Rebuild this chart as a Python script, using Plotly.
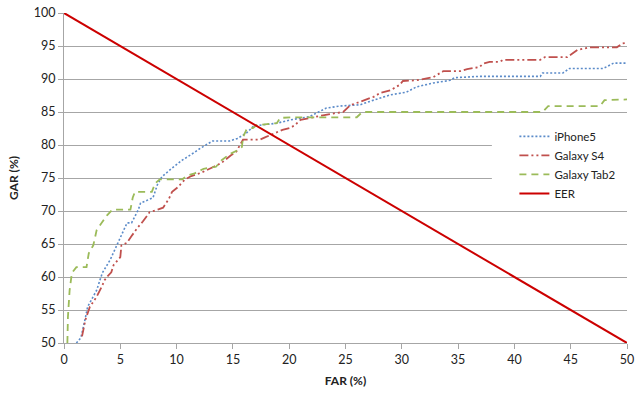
import plotly.graph_objects as go

# ---- data ----
iphone5_far = [1.1, 1.5, 1.9, 2.1, 2.9, 3.4, 4.1, 4.8, 5.3, 5.6, 6.0, 6.6, 6.8, 7.5, 7.9, 8.3, 8.7, 9.6, 10.5, 11.6,
               12.1, 13.2, 14.7, 15.4, 16.2, 16.8, 17.4, 18.9, 20.1, 21.8, 23.3, 24.5, 26.3, 27.5, 29.0, 30.4,
               31.3, 32.8, 34.3, 34.7, 36.9, 42.3, 42.5, 44.3, 44.9, 47.9, 48.8, 50.0]
iphone5_gar = [50.0, 50.8, 53.8, 55.5, 58.0, 60.6, 62.6, 65.1, 67.1, 68.2, 68.2, 70.2, 71.2, 71.7, 72.0, 74.0, 75.2, 76.5, 77.7, 78.9,
               79.5, 80.6, 80.6, 81.0, 81.8, 82.8, 83.0, 83.3, 83.8, 84.3, 85.6, 85.9, 86.1, 86.8, 87.6, 88.0,
               88.8, 89.4, 89.8, 90.2, 90.4, 90.4, 90.9, 90.9, 91.6, 91.6, 92.4, 92.4]

s4_far = [1.6, 1.7, 1.9, 2.3, 2.9, 3.4, 3.6, 3.8, 4.2, 4.4, 5.0, 5.1, 5.6, 6.0, 6.5, 7.0, 7.6, 8.3, 8.8, 9.3, 9.6,
          10.1, 10.7, 11.3, 12.2, 13.3, 14.0, 14.8, 15.3, 15.9, 17.4, 17.9, 18.9, 19.4, 20.1, 20.5, 21.0, 21.8,
          23.0, 24.0, 24.8, 25.4, 26.0, 26.6, 27.5, 28.1, 29.0, 29.8, 30.1, 31.3, 32.8, 33.7, 35.2, 35.8, 36.9,
          37.2, 37.8, 38.7, 39.0, 42.3, 42.7, 44.7, 45.2, 45.6, 46.7, 49.1, 49.6, 50.0]
s4_gar = [51.0, 52.0, 53.5, 55.5, 57.0, 58.7, 59.5, 60.0, 60.7, 61.8, 63.0, 64.8, 65.2, 66.2, 67.4, 68.4, 69.8, 70.2, 70.5, 71.8, 72.9,
          73.6, 74.7, 75.3, 75.8, 76.7, 77.3, 78.4, 79.0, 80.8, 80.8, 81.2, 82.0, 82.3, 82.6, 83.0, 83.8, 84.1,
          84.5, 84.8, 85.0, 86.0, 86.4, 86.8, 87.3, 87.9, 88.3, 89.1, 89.7, 89.8, 90.3, 91.2, 91.2, 91.5, 91.8,
          92.3, 92.6, 92.6, 92.9, 92.9, 93.3, 93.3, 93.9, 94.4, 94.8, 94.8, 95.4, 95.5]

tab2_far = [0.3, 0.35, 0.5, 0.7, 1.1, 2.0, 2.2, 2.6, 2.9, 3.2, 3.8, 4.3, 5.9, 6.1, 6.3, 7.8, 8.1, 8.5, 10.5, 11.0,
            11.6, 12.4, 13.5, 14.0, 14.7, 15.4, 15.8, 15.9, 16.2, 16.8, 17.1, 18.9, 19.2, 20.1, 26.0, 26.5,
            42.5, 43.0, 47.6, 48.0, 50.0]
tab2_gar = [50.0, 54.0, 58.0, 60.6, 61.5, 61.5, 63.6, 64.8, 67.1, 67.8, 69.3, 70.2, 70.2, 72.0, 72.9, 72.9, 74.2, 74.8, 74.8, 75.4,
            75.7, 76.4, 76.7, 77.7, 78.6, 79.2, 79.7, 81.2, 82.3, 82.6, 83.0, 83.3, 84.1, 84.2, 84.2, 85.0,
            85.0, 85.9, 85.9, 86.8, 86.9]

eer_far = [0, 50]
eer_gar = [100, 50]

x_ticks = list(range(0, 51, 5))
y_ticks = list(range(50, 101, 5))

FONT = "Lato, 'Open Sans', sans-serif"

fig = go.Figure()
fig.add_trace(go.Scatter(x=iphone5_far, y=iphone5_gar, mode="lines", name="iPhone5",
                         line=dict(color="#5B8BC9", width=1.6, dash="2px,2px")))
fig.add_trace(go.Scatter(x=s4_far, y=s4_gar, mode="lines", name="Galaxy S4",
                         line=dict(color="#C0504D", width=1.8, dash="9px,3px,2px,3px,2px,3px")))
fig.add_trace(go.Scatter(x=tab2_far, y=tab2_gar, mode="lines", name="Galaxy Tab2",
                         line=dict(color="#9BBB59", width=1.8, dash="7px,5px")))
fig.add_trace(go.Scatter(x=eer_far, y=eer_gar, mode="lines", name="EER",
                         line=dict(color="#CC0000", width=2)))

# white legend backdrop covering the gridlines
fig.add_shape(type="rect", xref="x", yref="y", x0=38.0, x1=50, y0=71.5, y1=83.7,
              fillcolor="white", line=dict(width=0), layer="between")

fig.update_layout(
    width=644, height=393,
    margin=dict(l=64, r=17, t=13, b=50, autoexpand=False),
    plot_bgcolor="white", paper_bgcolor="white",
    font=dict(family=FONT, size=12.5, color="#222222"),
    showlegend=True,
    legend=dict(x=0.8, y=0.67, xanchor="left", yanchor="top", bgcolor="rgba(0,0,0,0)",
                font=dict(family=FONT, size=11.5, color="#222222"), tracegroupgap=0, itemwidth=30),
    xaxis=dict(range=[0, 50], tickvals=x_ticks, showgrid=False, zeroline=False, automargin=False,
               showline=True, linecolor="#A6A6A6", linewidth=1,
               ticks="outside", ticklen=5, tickcolor="#A6A6A6",
               title=dict(text="<b>FAR (%)</b>", font=dict(size=12), standoff=10)),
    yaxis=dict(range=[50, 100], tickvals=y_ticks, showgrid=True, gridcolor="#A6A6A6", gridwidth=1,
               zeroline=False, showline=True, linecolor="#A6A6A6", linewidth=1, automargin=False,
               ticks="outside", ticklen=5, tickcolor="#A6A6A6",
               title=dict(text="<b>GAR (%)</b>", font=dict(size=12), standoff=12)),
)

fig.write_html("out.html")
